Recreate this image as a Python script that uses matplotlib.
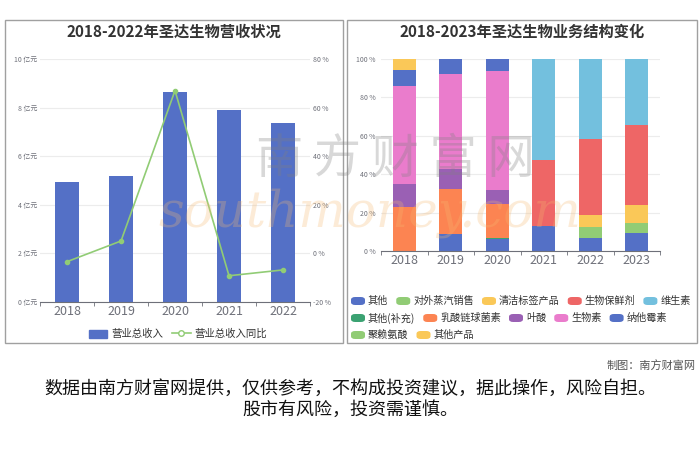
import matplotlib
matplotlib.use("Agg")
import matplotlib.pyplot as plt
from matplotlib.patches import Rectangle, FancyBboxPatch
from matplotlib.lines import Line2D
import numpy as np

plt.rcParams['font.family'] = ['Noto Sans CJK SC', 'DejaVu Sans']

# ---- data ----
years_rev = ['2018', '2019', '2020', '2021', '2022']
revenue = [4.92, 5.18, 8.66, 7.89, 7.37]          # 亿元
revenue_yoy = [-3.4, 5.1, 67.0, -9.2, -6.8]       # %

years_mix = ['2018', '2019', '2020', '2021', '2022', '2023']
mix_names = ['其他', '对外蒸汽销售', '清洁标签产品', '生物保鲜剂', '维生素',
             '其他(补充)', '乳酸链球菌素', '叶酸', '生物素', '纳他霉素',
             '聚赖氨酸', '其他产品']
mix_values = {
    '其他':         [0.0, 8.7, 6.1, 13.2, 6.6, 9.2],
    '对外蒸汽销售': [0.0, 0.0, 0.0, 0.0, 6.1, 5.4],
    '清洁标签产品': [0.0, 0.0, 0.0, 0.0, 6.0, 9.2],
    '生物保鲜剂':   [0.0, 0.0, 0.0, 34.4, 39.8, 41.7],
    '维生素':       [0.0, 0.0, 0.0, 52.4, 41.5, 34.5],
    '其他(补充)':   [0.0, 0.0, 0.7, 0.0, 0.0, 0.0],
    '乳酸链球菌素': [23.1, 23.8, 17.7, 0.0, 0.0, 0.0],
    '叶酸':         [11.8, 10.2, 7.3, 0.0, 0.0, 0.0],
    '生物素':       [51.2, 49.3, 62.1, 0.0, 0.0, 0.0],
    '纳他霉素':     [8.2, 8.0, 6.1, 0.0, 0.0, 0.0],
    '聚赖氨酸':     [0.0, 0.0, 0.0, 0.0, 0.0, 0.0],
    '其他产品':     [5.7, 0.0, 0.0, 0.0, 0.0, 0.0],
}
palette = ['#5470c6', '#91cc75', '#fac858', '#ee6666', '#73c0de', '#3ba272',
           '#fc8452', '#9a60b4', '#ea7ccc']

W, H = 700, 467
fig = plt.figure(figsize=(7, 4.67), dpi=100)

def fx(px):
    return px / W

def fy(py):
    return 1 - py / H

# panel frames
for x0, x1 in [(5, 343), (347, 697)]:
    fig.patches.append(Rectangle((fx(x0), fy(343)), fx(x1 - x0), (343 - 20) / H,
                                 transform=fig.transFigure, fill=False,
                                 edgecolor='#a0a0a0', lw=1.0))

grid_c = '#ececec'
tick_c = '#6e7079'

# ---- left chart ----
ax1 = fig.add_axes([fx(40), fy(302), fx(270), 243 / H])
x = np.arange(len(years_rev))
ax1.bar(x, revenue, width=0.44, color='#5470c6', zorder=2)
ax1.set_ylim(0, 10)
ax1.set_xlim(-0.5, len(years_rev) - 0.5)
ax1.set_yticks(range(0, 11, 2))
ax1.set_yticklabels([f'{v} 亿元' for v in range(0, 11, 2)], fontsize=5, color=tick_c)
ax1.yaxis.grid(True, color=grid_c, lw=0.8, zorder=0)
ax1.set_axisbelow(True)
ax1.set_xticks(x)
ax1.set_xticklabels(years_rev, fontsize=9, color=tick_c)
ax1.set_xticks(np.arange(-0.5, len(years_rev), 1), minor=True)
ax1.tick_params(axis='x', which='major', length=0, pad=2)
ax1.tick_params(axis='x', which='minor', length=3, color=tick_c)
ax1.tick_params(axis='y', length=0, pad=2)
for s in ['top', 'right', 'left']:
    ax1.spines[s].set_visible(False)
ax1.spines['bottom'].set_color(tick_c)

ax1r = ax1.twinx()
ax1r.plot(x, revenue_yoy, color='#91cc75', lw=1.2, marker='o', ms=3,
          mfc='#91cc75', mec='#91cc75', zorder=3)
ax1r.set_ylim(-20, 80)
ax1r.set_yticks(range(-20, 81, 20))
ax1r.set_yticklabels([f'{v} %' for v in range(-20, 81, 20)], fontsize=5, color=tick_c)
ax1r.tick_params(axis='y', length=0, pad=2)
for s in ['top', 'right', 'left', 'bottom']:
    ax1r.spines[s].set_visible(False)

fig.text(fx(174), fy(32), '2018-2022年圣达生物营收状况', ha='center', va='center',
         fontsize=11, fontweight='bold', color='#333333')

h2 = Line2D([0], [0], color='#91cc75', lw=1.2, marker='o', ms=4,
            mfc='white', mec='#91cc75')
fig.legend([Rectangle((0, 0), 1, 1, color='#5470c6'), h2], ['营业总收入', '营业总收入同比'],
           loc='center', bbox_to_anchor=(fx(178), fy(334)), ncol=2, frameon=False,
           fontsize=7.5, labelcolor='#333333', handlelength=1.8, handleheight=0.8,
           columnspacing=0.8, handletextpad=0.4)

# ---- right chart ----
ax2 = fig.add_axes([fx(381), fy(251), fx(279), 192 / H])
xm = np.arange(len(years_mix))
bottom = np.zeros(len(years_mix))
colors = {}
for i, name in enumerate(mix_names):
    c = palette[i % len(palette)]
    colors[name] = c
    vals = np.array(mix_values[name])
    ax2.bar(xm, vals, bottom=bottom, width=0.49, color=c, zorder=2)
    bottom += vals
ax2.set_ylim(0, 100)
ax2.set_xlim(-0.5, len(years_mix) - 0.5)
ax2.set_yticks(range(0, 101, 20))
ax2.set_yticklabels([f'{v} %' for v in range(0, 101, 20)], fontsize=5, color=tick_c)
ax2.yaxis.grid(True, color=grid_c, lw=0.8, zorder=0)
ax2.set_axisbelow(True)
ax2.set_xticks(xm)
ax2.set_xticklabels(years_mix, fontsize=9, color=tick_c)
ax2.set_xticks(np.arange(-0.5, len(years_mix), 1), minor=True)
ax2.tick_params(axis='x', which='major', length=0, pad=2)
ax2.tick_params(axis='x', which='minor', length=3, color=tick_c)
ax2.tick_params(axis='y', length=0, pad=4)
for s in ['top', 'right', 'left']:
    ax2.spines[s].set_visible(False)
ax2.spines['bottom'].set_color(tick_c)

fig.text(fx(522), fy(32), '2018-2023年圣达生物业务结构变化', ha='center', va='center',
         fontsize=11, fontweight='bold', color='#333333')

# flow legend like the original
fig.canvas.draw()
renderer = fig.canvas.get_renderer()
rows_y = [301, 318, 335]
row = 0
cx = 351
for name in mix_names:
    t = fig.text(0, 0, name, fontsize=7.3, color='#333333', va='center')
    tw = t.get_window_extent(renderer).width
    item_w = 14 + 3 + tw
    if cx + item_w > 695:
        row += 1
        cx = 351
    yy = rows_y[row]
    fig.patches.append(FancyBboxPatch((fx(cx), fy(yy + 4)), fx(14), 8 / H,
                                      boxstyle='round,pad=0,rounding_size=0.006',
                                      transform=fig.transFigure,
                                      facecolor=colors[name], edgecolor='none'))
    t.set_position((fx(cx + 17), fy(yy)))
    cx += item_w + 8

# watermark
fig.text(fx(395), fy(160), '南 方 财 富 网', ha='center', va='center', fontsize=34,
         color='#808080', alpha=0.3)
fig.text(fx(370), fy(213), 'southmoney.com', ha='center', va='center', fontsize=36,
         color='#f5b870', alpha=0.28, style='italic', family='DejaVu Serif')

# footer
fig.text(fx(696), fy(365), '制图：南方财富网', ha='right', va='center', fontsize=8,
         color='#555555')
fig.text(0.5, fy(389), '数据由南方财富网提供，仅供参考，不构成投资建议，据此操作，风险自担。',
         ha='center', va='center', fontsize=13, color='#111111')
fig.text(0.5, fy(410), '股市有风险，投资需谨慎。', ha='center', va='center',
         fontsize=13, color='#111111')

fig.savefig('out.png', dpi=100)
